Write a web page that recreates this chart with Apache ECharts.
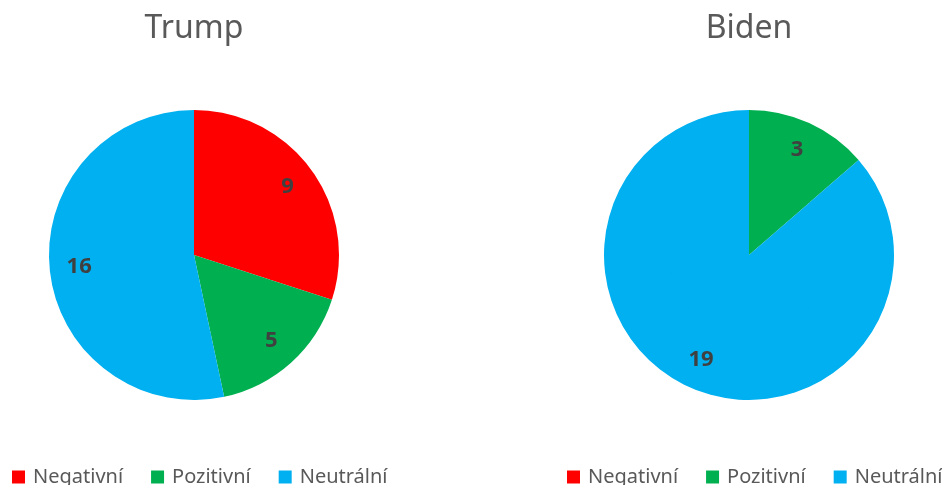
<!DOCTYPE html>
<html>
<head>
<meta charset="utf-8">
<script src="https://cdn.jsdelivr.net/npm/echarts@6/dist/echarts.min.js"></script>
<style>
  html, body { margin: 0; padding: 0; background: #fff; }
  #chart { width: 942px; height: 485px; }
</style>
</head>
<body>
<div id="chart"></div>
<script>
// Sentiment categories and slice colours
const categories = ['Negativní', 'Pozitivní', 'Neutrální'];
const colors = ['#FF0000', '#00B050', '#00B0F0'];

// Counts per candidate
const trumpValues = [9, 5, 16];
const bidenValues = [0, 3, 19];

const candidates = ['Trump', 'Biden'];
const centersX = [194, 749];
const legendLeft = [7, 562];
const centerY = 255;
const R = 145;
const labelRing = 80; // inner edge of the labelled ring, puts labels near 0.78 R

const FONT = '"Noto Sans", "Liberation Sans", sans-serif';

function toData(values) {
  return categories.map((name, i) => ({
    name: name,
    value: values[i],
    itemStyle: { color: colors[i] }
  }));
}

function pieSeries(values, cx) {
  const data = toData(values);
  const common = {
    type: 'pie',
    center: [cx, centerY],
    startAngle: 90,
    clockwise: true,
    avoidLabelOverlap: false,
    emphasis: { disabled: true },
    labelLine: { show: false },
    animation: false
  };
  return [
    Object.assign({}, common, {
      radius: [0, labelRing + 1],
      silent: true,
      label: { show: false },
      data: data
    }),
    Object.assign({}, common, {
      radius: [labelRing, R],
      label: {
        show: true,
        position: 'inside',
        formatter: p => (p.value ? String(p.value) : ''),
        color: '#404040',
        fontSize: 22,
        fontWeight: 'bold',
        fontFamily: FONT
      },
      data: data
    })
  ];
}

const chart = echarts.init(document.getElementById('chart'), null, { renderer: 'canvas' });

chart.setOption({
  backgroundColor: '#ffffff',
  animation: false,
  title: candidates.map((name, i) => ({
    text: name,
    left: centersX[i] - 5,
    top: 8,
    textAlign: 'center',
    textStyle: { color: '#595959', fontSize: 32, fontWeight: 'normal', fontFamily: FONT }
  })),
  legend: candidates.map((name, i) => ({
    data: categories,
    left: legendLeft[i],
    top: 462,
    width: 440,
    orient: 'horizontal',
    icon: 'rect',
    itemWidth: 13,
    itemHeight: 13,
    itemGap: 28,
    selectedMode: false,
    textStyle: { color: '#595959', fontSize: 20, fontFamily: FONT, padding: [0, 0, 0, 3] }
  })),
  series: [].concat(pieSeries(trumpValues, centersX[0]), pieSeries(bidenValues, centersX[1]))
});
</script>
</body>
</html>
